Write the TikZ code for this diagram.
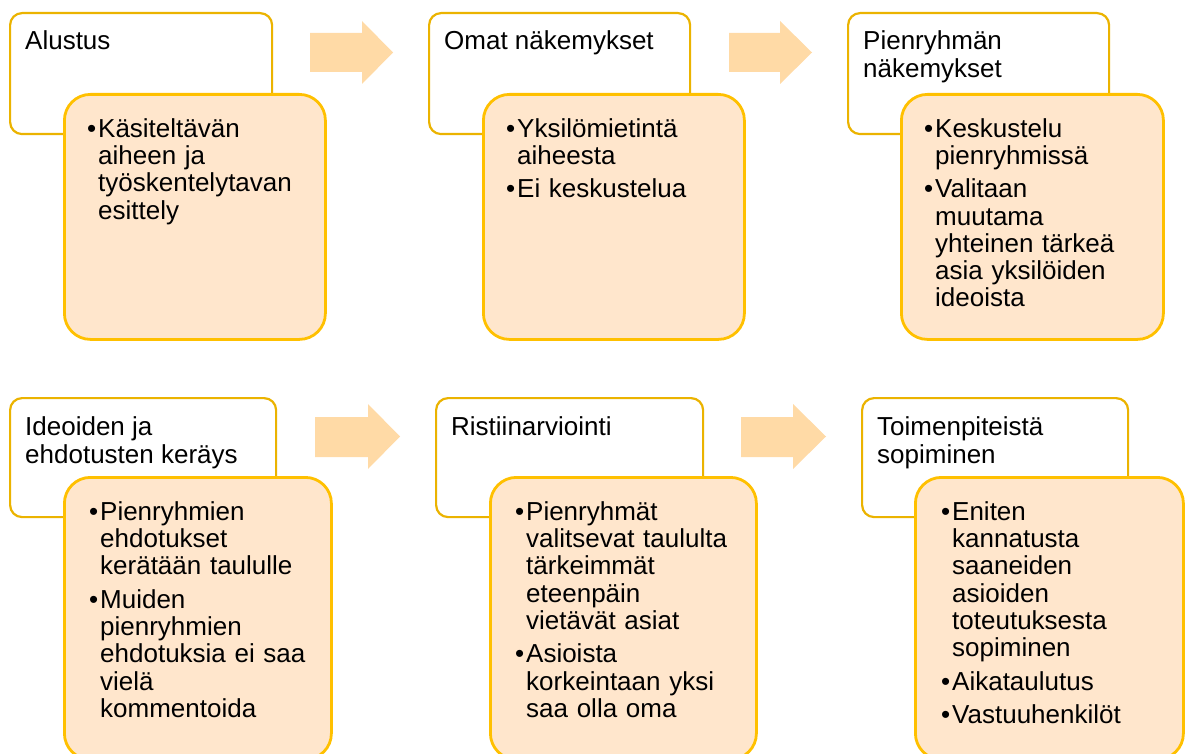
\documentclass[tikz,border=0pt]{standalone}
\usepackage{fontspec}
\setmainfont{Liberation Sans}
\usetikzlibrary{calc}
\definecolor{wborder}{HTML}{EBB300}
\definecolor{oborder}{HTML}{FFC000}
\definecolor{ofill}{HTML}{FFE6CC}
\definecolor{afill}{HTML}{FFDAA6}
\newcommand\topstrut{\rule{0pt}{24pt}}
\newcommand\bitem{\par\setlength{\parskip}{6pt}\hangindent=11pt\hangafter=1\noindent\makebox[11pt][l]{\textbullet}}
\newcommand\firstitem{\setlength{\parskip}{6pt}\hangindent=11pt\hangafter=1\noindent\topstrut\makebox[11pt][l]{\textbullet}}
\begin{document}
\begin{tikzpicture}[x=1pt,y=-1pt,
  wbox/.style={draw=wborder, line width=2.2pt, fill=white, rounded corners=12pt, inner sep=0pt, anchor=north west},
  obox/.style={draw=oborder, line width=2.8pt, fill=ofill, rounded corners=26pt, inner sep=0pt, anchor=north west},
  title/.style={anchor=north west, inner sep=0pt, align=left, font=\fontsize{26}{28}\selectfont},
  body/.style={anchor=north west, inner sep=0pt, text width=250pt, align=left, font=\fontsize{26}{27.3}\selectfont},
  arr/.style={fill=afill}]
\useasboundingbox (0,0) rectangle (1187,754);
\clip (0,0) rectangle (1187,754);
% ---------- row 1 ----------
\node[wbox, minimum width=262pt, minimum height=121pt] (w1) at (9,12) {};
\node[obox, minimum width=261pt, minimum height=245pt] (o1) at (63,93) {};
\node[title] (t1) at ($(w1.north west)+(16,37-24)$) {\topstrut Alustus};
\node[body] (b1) at ($(o1.north west)+(24,44-24)$) {\firstitem Käsiteltävän\newline aiheen ja\newline työskentelytavan\newline esittely\par};

\node[wbox, minimum width=261pt, minimum height=121pt] (w2) at (428,12) {};
\node[obox, minimum width=261pt, minimum height=245pt] (o2) at (482,93) {};
\node[title] (t2) at ($(w2.north west)+(16,37-24)$) {\topstrut Omat näkemykset};
\node[body] (b2) at ($(o2.north west)+(24,44-24)$) {\firstitem Yksilömietintä\newline aiheesta \bitem Ei keskustelua\par};

\node[wbox, minimum width=261pt, minimum height=121pt] (w3) at (847,12) {};
\node[obox, minimum width=262pt, minimum height=245pt] (o3) at (900,93) {};
\node[title] (t3) at ($(w3.north west)+(16,37-24)$) {\topstrut Pienryhmän\\näkemykset};
\node[body] (b3) at ($(o3.north west)+(24,44-24)$) {\firstitem Keskustelu\newline pienryhmissä \bitem Valitaan\newline muutama\newline yhteinen tärkeä\newline asia yksilöiden\newline ideoista\par};

\fill[arr] (310,33) -- (362,33) -- (362,21) -- (393,52.5) -- (362,84) -- (362,72) -- (310,72) -- cycle;
\fill[arr] (729,33) -- (780,33) -- (780,21) -- (812,52.5) -- (780,84) -- (780,72) -- (729,72) -- cycle;

% ---------- row 2 ----------
\node[wbox, minimum width=266pt, minimum height=119pt] (w4) at (9,397) {};
\node[obox, minimum width=267pt, minimum height=282pt] (o4) at (63,476) {};
\node[title] (t4) at ($(w4.north west)+(16,38-24)$) {\topstrut Ideoiden ja\\ehdotusten keräys};
\node[body] (b4) at ($(o4.north west)+(26,44-24)$) {\firstitem Pienryhmien\newline ehdotukset\newline kerätään taululle \bitem Muiden\newline pienryhmien\newline ehdotuksia ei saa\newline vielä\newline kommentoida\par};

\node[wbox, minimum width=267pt, minimum height=119pt] (w5) at (435,397) {};
\node[obox, minimum width=266pt, minimum height=282pt] (o5) at (489,476) {};
\node[title] (t5) at ($(w5.north west)+(16,38-24)$) {\topstrut Ristiinarviointi};
\node[body] (b5) at ($(o5.north west)+(26,44-24)$) {\firstitem Pienryhmät\newline valitsevat taululta\newline tärkeimmät\newline eteenpäin\newline vietävät asiat \bitem Asioista\newline korkeintaan yksi\newline saa olla oma\par};

\node[wbox, minimum width=266pt, minimum height=119pt] (w6) at (861,397) {};
\node[obox, minimum width=268pt, minimum height=282pt] (o6) at (914,476) {};
\node[title] (t6) at ($(w6.north west)+(16,38-24)$) {\topstrut Toimenpiteistä\\sopiminen};
\node[body] (b6) at ($(o6.north west)+(27,44-24)$) {\firstitem Eniten\newline kannatusta\newline saaneiden\newline asioiden\newline toteutuksesta\newline sopiminen \bitem Aikataulutus \bitem Vastuuhenkilöt\par};

\fill[arr] (315,417) -- (368,417) -- (368,404) -- (400,436.5) -- (368,469) -- (368,457) -- (315,457) -- cycle;
\fill[arr] (741,417) -- (793,417) -- (793,404) -- (826,436.5) -- (793,469) -- (793,457) -- (741,457) -- cycle;
\end{tikzpicture}
\end{document}
